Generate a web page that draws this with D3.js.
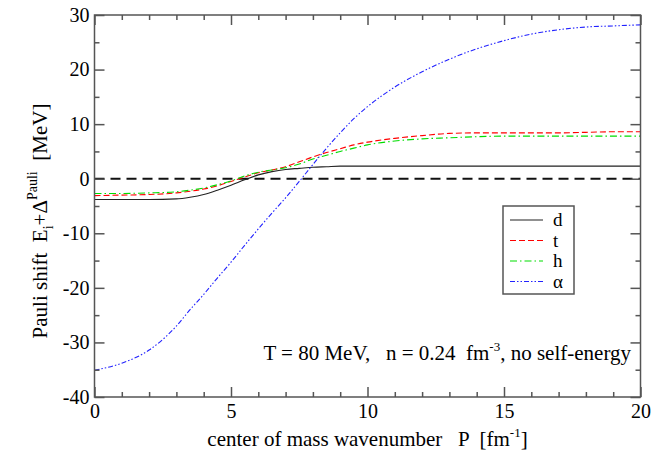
<!DOCTYPE html>
<html>
<head>
<meta charset="utf-8">
<script src="https://cdn.jsdelivr.net/npm/d3@7"></script>
<style>
  body { margin: 0; background: #fff; }
  svg text { white-space: pre; }
</style>
</head>
<body>
<div id="chart"></div>
<script>
// wavenumber grid P [fm^-1]
const pValues = [0, 1, 2, 3, 3.5, 4, 4.5, 5, 5.5, 6, 6.5, 7, 7.5, 8, 8.5, 9, 9.5, 10, 11, 12, 13, 14, 15, 16, 17, 18, 19, 20];

const dValues = [-3.8, -3.8, -3.8, -3.7, -3.4, -2.9, -2.1, -1.2, -0.2, 0.7, 1.3, 1.7, 1.9, 2.1, 2.2, 2.3, 2.3, 2.3, 2.3, 2.3, 2.3, 2.3, 2.3, 2.3, 2.3, 2.3, 2.3, 2.3];
const tValues = [-3.1, -3.0, -2.9, -2.6, -2.3, -1.9, -1.3, -0.5, 0.3, 1.1, 1.6, 2.2, 3.1, 4.0, 4.8, 5.5, 6.2, 6.7, 7.4, 7.9, 8.3, 8.4, 8.4, 8.4, 8.4, 8.5, 8.6, 8.6];
const hValues = [-2.7, -2.7, -2.6, -2.4, -2.1, -1.7, -1.1, -0.4, 0.5, 1.2, 1.6, 2.0, 2.7, 3.6, 4.3, 5.0, 5.6, 6.2, 6.9, 7.3, 7.5, 7.7, 7.8, 7.8, 7.8, 7.8, 7.8, 7.8];
const alphaValues = [-35.1, -33.8, -31.4, -27.0, -24.0, -21.2, -18.2, -15.3, -12.2, -9.2, -6.3, -3.5, -0.5, 2.6, 5.6, 8.4, 11.0, 13.2, 16.8, 19.6, 21.9, 23.8, 25.3, 26.5, 27.3, 27.8, 28.0, 28.2];

const seriesNames = ["d", "t", "h", "α"];
const seriesColors = ["#222222", "#ff0000", "#00dd00", "#2222ff"];
const seriesDashes = [null, "6,3", "7,3,1.5,3", "5,2,1.5,2,1.5,2"];

const xMajorTicks = [0, 5, 10, 15, 20];
const xMinorTicks = [1, 2, 3, 4, 6, 7, 8, 9, 11, 12, 13, 14, 16, 17, 18, 19];
const yMajorTicks = [-40, -30, -20, -10, 0, 10, 20, 30];
const yMinorTicks = [-35, -25, -15, -5, 5, 15, 25];

const WIDTH = 662;
const HEIGHT = 455;
const PLOT = { LEFT: 94.5, RIGHT: 640.5, TOP: 15, BOTTOM: 397 };
const FRAME = "#555";
const SERIF = "'Liberation Serif', 'Times New Roman', Times, 'DejaVu Serif', serif";

const svg = d3.select("#chart").append("svg")
    .attr("width", WIDTH)
    .attr("height", HEIGHT)
    .attr("font-family", SERIF);

const x = d3.scaleLinear().domain([0, 20]).range([PLOT.LEFT, PLOT.RIGHT]);
const y = d3.scaleLinear().domain([-40, 30]).range([PLOT.BOTTOM, PLOT.TOP]);

const allSeries = [dValues, tValues, hValues, alphaValues].map((vals, i) => ({
    name: seriesNames[i],
    color: seriesColors[i],
    dash: seriesDashes[i],
    points: pValues.map((p, j) => ({ p: p, v: vals[j] }))
}));

// zero line
svg.append("line")
    .attr("x1", x(0)).attr("x2", x(20))
    .attr("y1", y(0)).attr("y2", y(0))
    .attr("stroke", "#111")
    .attr("stroke-width", 2)
    .attr("stroke-dasharray", "10,6");

const line = d3.line()
    .x(d => x(d.p))
    .y(d => y(d.v))
    .curve(d3.curveMonotoneX);

svg.append("g").selectAll("path")
    .data(allSeries)
    .join("path")
    .attr("d", d => line(d.points))
    .attr("fill", "none")
    .attr("stroke", d => d.color)
    .attr("stroke-width", 1.1)
    .attr("stroke-dasharray", d => d.dash);

// axes (ticks inward on all four sides)
function styleAxis(g) {
    g.attr("font-family", SERIF).attr("font-size", 20);
    g.select(".domain").remove();
    g.selectAll(".tick line").attr("stroke", FRAME).attr("stroke-width", 1.5);
    g.selectAll(".tick text").attr("fill", "#000");
}

svg.append("g")
    .attr("transform", `translate(0,${PLOT.BOTTOM})`)
    .call(d3.axisBottom(x).tickValues(xMajorTicks).tickSize(-10).tickSizeOuter(0).tickPadding(7).tickFormat(d3.format("d")))
    .call(styleAxis);
svg.append("g")
    .attr("transform", `translate(0,${PLOT.BOTTOM})`)
    .call(d3.axisBottom(x).tickValues(xMinorTicks).tickSize(-5).tickFormat(""))
    .call(styleAxis);
svg.append("g")
    .attr("transform", `translate(0,${PLOT.TOP})`)
    .call(d3.axisTop(x).tickValues(xMajorTicks).tickSize(-10).tickFormat(""))
    .call(styleAxis);
svg.append("g")
    .attr("transform", `translate(0,${PLOT.TOP})`)
    .call(d3.axisTop(x).tickValues(xMinorTicks).tickSize(-5).tickFormat(""))
    .call(styleAxis);

svg.append("g")
    .attr("transform", `translate(${PLOT.LEFT},0)`)
    .call(d3.axisLeft(y).tickValues(yMajorTicks).tickSize(-10).tickPadding(5).tickFormat(d => String(d)))
    .call(styleAxis);
svg.append("g")
    .attr("transform", `translate(${PLOT.LEFT},0)`)
    .call(d3.axisLeft(y).tickValues(yMinorTicks).tickSize(-5).tickFormat(""))
    .call(styleAxis);
svg.append("g")
    .attr("transform", `translate(${PLOT.RIGHT},0)`)
    .call(d3.axisRight(y).tickValues(yMajorTicks).tickSize(-10).tickFormat(""))
    .call(styleAxis);
svg.append("g")
    .attr("transform", `translate(${PLOT.RIGHT},0)`)
    .call(d3.axisRight(y).tickValues(yMinorTicks).tickSize(-5).tickFormat(""))
    .call(styleAxis);

// frame
svg.append("rect")
    .attr("x", PLOT.LEFT).attr("y", PLOT.TOP)
    .attr("width", PLOT.RIGHT - PLOT.LEFT)
    .attr("height", PLOT.BOTTOM - PLOT.TOP)
    .attr("fill", "none")
    .attr("stroke", FRAME)
    .attr("stroke-width", 1.5);

// x label
const xLabel = svg.append("text")
    .attr("x", (PLOT.LEFT + PLOT.RIGHT) / 2)
    .attr("y", 446)
    .attr("text-anchor", "middle")
    .attr("font-size", 21);
xLabel.append("tspan").text("center of mass wavenumber   P  [fm");
xLabel.append("tspan").attr("dy", -9).attr("font-size", 13).text("-1");
xLabel.append("tspan").attr("dy", 9).text("]");

// y label
const yLabel = svg.append("text")
    .attr("transform", `translate(47,${(PLOT.TOP + PLOT.BOTTOM) / 2 + 15}) rotate(-90)`)
    .attr("text-anchor", "middle")
    .attr("font-size", 21);
yLabel.append("tspan").text("Pauli shift  E");
yLabel.append("tspan").attr("dy", 6).attr("font-size", 14).text("i");
yLabel.append("tspan").attr("dy", -6).text("+Δ");
yLabel.append("tspan").attr("dy", -10).attr("font-size", 14).text("Pauli");
yLabel.append("tspan").attr("dy", 10).text("  [MeV]");

// annotation
const note = svg.append("text")
    .attr("x", 631)
    .attr("y", 360)
    .attr("text-anchor", "end")
    .attr("font-size", 21);
note.append("tspan").text("T = 80 MeV,   n = 0.24  fm");
note.append("tspan").attr("dy", -9).attr("font-size", 13).text("-3");
note.append("tspan").attr("dy", 9).text(", no self-energy");

// legend
const legend = svg.append("g");
legend.append("rect")
    .attr("x", 503).attr("y", 206)
    .attr("width", 71).attr("height", 88)
    .attr("fill", "#fff")
    .attr("stroke", FRAME)
    .attr("stroke-width", 1.5);
const legendRows = legend.selectAll("g.row")
    .data(allSeries)
    .join("g")
    .attr("class", "row")
    .attr("transform", (d, i) => `translate(0,${220 + i * 20.5})`);
legendRows.append("line")
    .attr("x1", 510).attr("x2", 543)
    .attr("stroke", d => d.color)
    .attr("stroke-width", 1.2)
    .attr("stroke-dasharray", d => d.dash);
legendRows.append("text")
    .attr("x", 553).attr("y", 6)
    .attr("font-size", 19)
    .text(d => d.name);
</script>
</body>
</html>
